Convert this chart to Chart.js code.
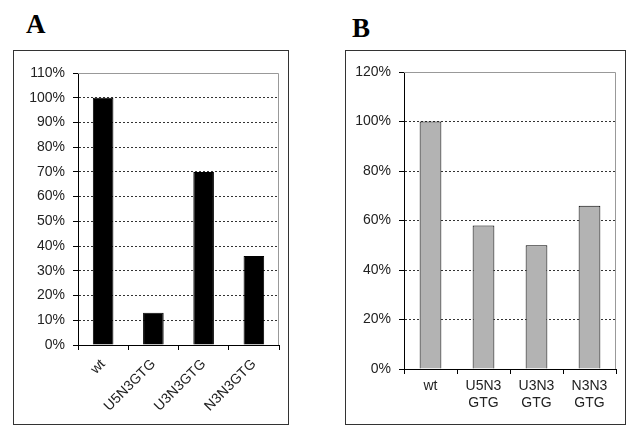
<!DOCTYPE html>
<html>
<head>
<meta charset="utf-8">
<script src="https://cdn.jsdelivr.net/npm/chart.js@4.4.0/dist/chart.umd.min.js"></script>
<style>
  body { margin: 0; background: #fff; width: 641px; height: 439px; position: relative; overflow: hidden; }
  .letter { position: absolute; font-family: "Liberation Serif", serif; font-weight: bold; font-size: 27px; color: #000; }
  .box { position: absolute; border: 1px solid #333; }
  .box canvas { display: block; }
</style>
</head>
<body>
<div class="letter" style="left:26px; top:9px;">A</div>
<div class="letter" style="left:352px; top:13px;">B</div>
<div class="box" style="left:13px; top:50px; width:274px; height:373px;"><canvas id="chartA" width="274" height="373"></canvas></div>
<div class="box" style="left:345px; top:50px; width:279px; height:373px;"><canvas id="chartB" width="279" height="373"></canvas></div>
<script>
var labelsA = ["wt", "U5N3GTG", "U3N3GTG", "N3N3GTG"];
var valuesA = [100, 13, 70, 36];
var labelsB = [["wt"], ["U5N3", "GTG"], ["U3N3", "GTG"], ["N3N3", "GTG"]];
var valuesB = [100, 58, 50, 66];

Chart.defaults.font.family = "'Liberation Sans', Arial, sans-serif";
Chart.defaults.color = "#222";

// gray frame on top and right of the plot area
var frame = {
    id: 'frame',
    afterDraw: function (chart) {
        var a = chart.chartArea, ctx = chart.ctx;
        ctx.save();
        ctx.strokeStyle = '#999';
        ctx.lineWidth = 1;
        ctx.beginPath();
        ctx.moveTo(a.left, a.top + 0.5);
        ctx.lineTo(a.right - 0.5, a.top + 0.5);
        ctx.lineTo(a.right - 0.5, a.bottom);
        ctx.stroke();
        ctx.restore();
    }
};

function makeChart(id, labels, values, fill, yMax, yStep, yWidth, xHeight, pad, rot, xPad) {
    return new Chart(document.getElementById(id), {
        type: 'bar',
        data: {
            labels: labels,
            datasets: [{
                data: values,
                backgroundColor: fill,
                borderColor: '#000',
                borderWidth: 1,
                categoryPercentage: 1,
                barPercentage: 0.41
            }]
        },
        plugins: [frame],
        options: {
            responsive: false,
            animation: false,
            layout: { padding: pad },
            plugins: { legend: { display: false }, tooltip: { enabled: false } },
            scales: {
                x: {
                    afterFit: function (s) { s.height = xHeight; },
                    border: { color: '#000', width: 1 },
                    grid: { offset: true, drawOnChartArea: false, tickLength: 5, color: '#000' },
                    ticks: { font: { size: 14 }, minRotation: rot, maxRotation: rot, padding: xPad, color: '#222' }
                },
                y: {
                    min: 0,
                    max: yMax,
                    afterFit: function (s) { s.width = yWidth; },
                    border: { color: '#000', width: 1, dash: [2, 2] },
                    grid: {
                        color: function (c) { return c.tick && c.tick.value >= yMax ? 'rgba(0,0,0,0)' : '#333'; },
                        tickColor: '#000',
                        tickLength: 5,
                        tickBorderDash: []
                    },
                    ticks: {
                        stepSize: yStep,
                        padding: 8,
                        font: { size: 14 },
                        color: '#222',
                        callback: function (v) { return v + '%'; }
                    }
                }
            }
        }
    });
}

makeChart('chartA', labelsA, valuesA, '#000', 110, 10, 64, 79, { top: 22, right: 9, left: 0, bottom: 0 }, 45, 6);
makeChart('chartB', labelsB, valuesB, '#b3b3b3', 120, 20, 58, 55, { top: 21, right: 9, left: 0, bottom: 0 }, 0, 4);
</script>
</body>
</html>
